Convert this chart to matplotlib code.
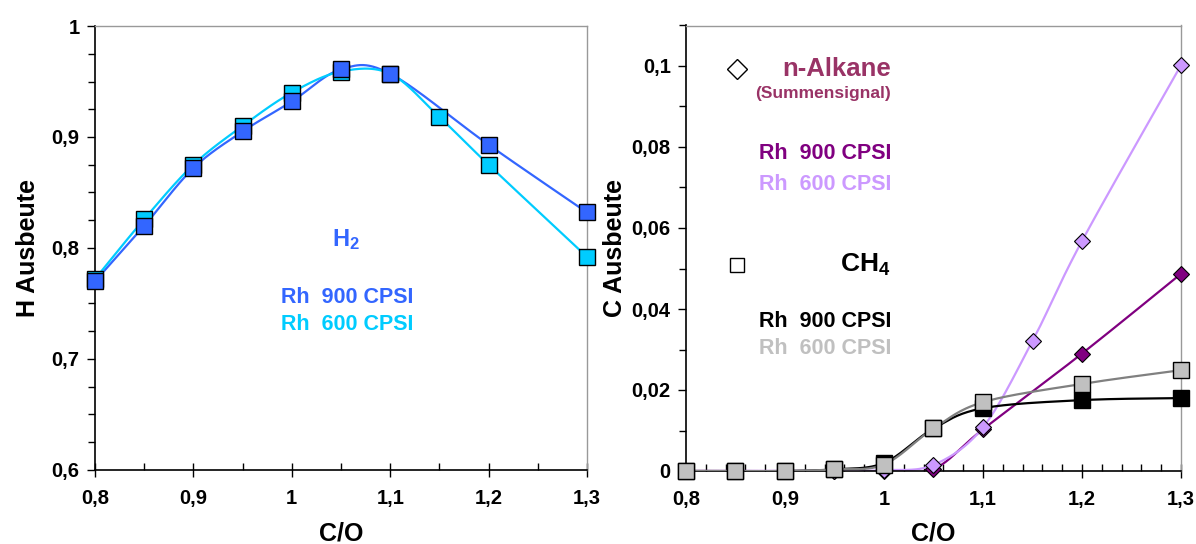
import numpy as np
import matplotlib
matplotlib.use("Agg")
import matplotlib.pyplot as plt
from matplotlib.ticker import MultipleLocator, FuncFormatter

plt.rcParams['font.family'] = ['Liberation Sans', 'DejaVu Sans']
plt.rcParams['font.weight'] = 'bold'
plt.rcParams['mathtext.fontset'] = 'custom'
plt.rcParams['mathtext.rm'] = 'Liberation Sans:bold'
plt.rcParams['mathtext.it'] = 'Liberation Sans:bold'
plt.rcParams['mathtext.bf'] = 'Liberation Sans:bold'

# ---- H2 yield (left panel) ----
h2_x_900 = [0.80, 0.85, 0.90, 0.95, 1.00, 1.05, 1.10, 1.20, 1.30]
h2_y_900 = [0.770, 0.820, 0.872, 0.905, 0.932, 0.961, 0.957, 0.893, 0.832]
h2_x_600 = [0.80, 0.85, 0.90, 0.95, 1.00, 1.05, 1.10, 1.15, 1.20, 1.30]
h2_y_600 = [0.772, 0.826, 0.875, 0.910, 0.940, 0.959, 0.957, 0.918, 0.875, 0.792]

# ---- C yield (right panel) ----
co_x = [0.80, 0.85, 0.90, 0.95, 1.00, 1.05, 1.10, 1.20, 1.30]
ch4_900 = [0.0, 0.0, 0.0, 0.0004, 0.0020, 0.0105, 0.0155, 0.0175, 0.0180]
ch4_600 = [0.0, 0.0, 0.0, 0.0004, 0.0016, 0.0105, 0.0170, 0.0215, 0.0249]
alk_x_900 = [0.80, 0.85, 0.90, 0.95, 1.00, 1.05, 1.10, 1.20, 1.30]
alk_900 = [0.0, 0.0, 0.0, 0.0, 0.0, 0.0005, 0.0103, 0.0290, 0.0487]
alk_x_600 = [0.80, 0.85, 0.90, 0.95, 1.00, 1.05, 1.10, 1.15, 1.20, 1.30]
alk_600 = [0.0, 0.0, 0.0, 0.0, 0.0002, 0.0015, 0.0108, 0.0321, 0.0568, 0.1002]

BLUE = '#3366FF'
CYAN = '#00CCFF'
PURPLE = '#800080'
LAVENDER = '#CC99FF'
MAROON = '#993366'
GRAY_LINE = '#808080'
SILVER = '#C0C0C0'


def smooth(xs, ys, n=30):
    """Bezier smoothing through the points (Catmull-Rom style control points)."""
    p = np.column_stack([xs, ys]).astype(float)
    out = []
    m = len(p)
    t = np.linspace(0, 1, n)[:, None]
    for i in range(m - 1):
        p0 = p[i - 1] if i > 0 else p[i]
        p1 = p[i]
        p2 = p[i + 1]
        p3 = p[i + 2] if i + 2 < m else p[i + 1]
        b1 = p1 + (p2 - p0) / 6.0
        b2 = p2 - (p3 - p1) / 6.0
        seg = ((1 - t) ** 3) * p1 + 3 * ((1 - t) ** 2) * t * b1 + 3 * (1 - t) * t ** 2 * b2 + t ** 3 * p2
        out.append(seg if i == 0 else seg[1:])
    c = np.vstack(out)
    return c[:, 0], c[:, 1]


def comma(v, pos):
    s = ('%.2f' % v).rstrip('0').rstrip('.')
    return s.replace('.', ',')


fig = plt.figure(figsize=(11.96, 5.44), dpi=100)
axL = fig.add_axes([95 / 1196, 1 - 470 / 544, 492 / 1196, 444 / 544])
axR = fig.add_axes([686 / 1196, 1 - 471 / 544, 495 / 1196, 445.5 / 544])

for ax in (axL, axR):
    ax.spines['left'].set_linewidth(1.2)
    ax.spines['bottom'].set_linewidth(1.2)
    for s in ('top', 'right'):
        ax.spines[s].set_color('#999999')
        ax.spines[s].set_linewidth(1.0)
    ax.xaxis.set_major_formatter(FuncFormatter(comma))
    ax.yaxis.set_major_formatter(FuncFormatter(comma))
    ax.tick_params(axis='y', which='major', direction='out', length=6, width=1, labelsize=14.5, pad=5)
    ax.tick_params(axis='y', which='minor', direction='out', length=5, width=1)
    ax.tick_params(axis='x', which='major', direction='inout', length=10, width=1, labelsize=14.5, pad=9)
    ax.tick_params(axis='x', which='minor', direction='in', length=5, width=1)

# ---- left panel ----
axL.set_xlim(0.8, 1.3)
axL.set_ylim(0.6, 1.0)
axL.xaxis.set_major_locator(MultipleLocator(0.1))
axL.xaxis.set_minor_locator(MultipleLocator(0.05))
axL.yaxis.set_major_locator(MultipleLocator(0.1))
axL.yaxis.set_minor_locator(MultipleLocator(0.025))

sx, sy = smooth(h2_x_900, h2_y_900)
axL.plot(sx, sy, color=BLUE, lw=1.6, zorder=2)
sx, sy = smooth(h2_x_600, h2_y_600)
axL.plot(sx, sy, color=CYAN, lw=1.6, zorder=3)
axL.plot(h2_x_600, h2_y_600, ls='none', marker='s', ms=11, mfc=CYAN, mec='black', mew=1.0,
         zorder=4, clip_on=False)
axL.plot(h2_x_900, h2_y_900, ls='none', marker='s', ms=11, mfc=BLUE, mec='black', mew=1.0,
         zorder=5, clip_on=False)

axL.text(0.51, 0.518, r'H$_2$', transform=axL.transAxes, ha='center', va='center',
         color=BLUE, fontsize=17, fontweight='bold')
axL.text(0.379, 0.388, 'Rh  900 CPSI', transform=axL.transAxes, ha='left', va='center',
         color=BLUE, fontsize=15.5, fontweight='bold')
axL.text(0.379, 0.327, 'Rh  600 CPSI', transform=axL.transAxes, ha='left', va='center',
         color=CYAN, fontsize=15.5, fontweight='bold')

axL.set_xlabel('C/O', fontsize=18, fontweight='bold')
axL.set_ylabel('H Ausbeute', fontsize=18, fontweight='bold')
axL.xaxis.set_label_coords(0.5, -0.115)
axL.yaxis.set_label_coords(-0.112, 0.5)

# ---- right panel ----
axR.set_xlim(0.8, 1.3)
axR.set_ylim(0.0, 0.11)
axR.xaxis.set_major_locator(MultipleLocator(0.1))
axR.xaxis.set_minor_locator(MultipleLocator(0.02))
axR.set_yticks([0, 0.02, 0.04, 0.06, 0.08, 0.1])
axR.yaxis.set_minor_locator(MultipleLocator(0.01))

sx, sy = smooth(alk_x_900, alk_900)
axR.plot(sx, sy, color=PURPLE, lw=1.6, zorder=2)
sx, sy = smooth(alk_x_600, alk_600)
axR.plot(sx, sy, color=LAVENDER, lw=1.6, zorder=2)
axR.plot(alk_x_900, alk_900, ls='none', marker='D', ms=8, mfc=PURPLE, mec='black', mew=0.8,
         zorder=3, clip_on=False)
axR.plot(alk_x_600, alk_600, ls='none', marker='D', ms=8, mfc=LAVENDER, mec='black', mew=0.8,
         zorder=3, clip_on=False)

sx, sy = smooth(co_x, ch4_900)
axR.plot(sx, sy, color='black', lw=1.6, zorder=4)
sx, sy = smooth(co_x, ch4_600)
axR.plot(sx, sy, color=GRAY_LINE, lw=1.6, zorder=4)
axR.plot(co_x, ch4_900, ls='none', marker='s', ms=11, mfc='black', mec='black', mew=1.0,
         zorder=5, clip_on=False)
axR.plot(co_x, ch4_600, ls='none', marker='s', ms=11, mfc=SILVER, mec='black', mew=1.0,
         zorder=6, clip_on=False)

# legend-style annotations
TX = 1.007
axR.plot([0.8515], [0.0993], ls='none', marker='D', ms=10.5,
         mfc='white', mec='black', mew=1.0, clip_on=False)
axR.text(TX, 0.0993, 'n-Alkane', ha='right', va='center', color=MAROON,
         fontsize=18.5, fontweight='bold')
axR.text(TX, 0.0931, '(Summensignal)', ha='right', va='center', color=MAROON,
         fontsize=12.5, fontweight='bold')
axR.text(TX, 0.0783, 'Rh  900 CPSI', ha='right', va='center', color=PURPLE,
         fontsize=15.5, fontweight='bold')
axR.text(TX, 0.0708, 'Rh  600 CPSI', ha='right', va='center', color=LAVENDER,
         fontsize=15.5, fontweight='bold')

axR.plot([0.8515], [0.0508], ls='none', marker='s', ms=10, mfc='white', mec='black', mew=1.0,
         clip_on=False)
axR.text(TX, 0.0508, r'CH$_4$', ha='right', va='center', color='black',
         fontsize=19, fontweight='bold')
axR.text(TX, 0.0368, 'Rh  900 CPSI', ha='right', va='center', color='black',
         fontsize=15.5, fontweight='bold')
axR.text(TX, 0.0303, 'Rh  600 CPSI', ha='right', va='center', color=SILVER,
         fontsize=15.5, fontweight='bold')

axR.set_xlabel('C/O', fontsize=18, fontweight='bold')
axR.set_ylabel('C Ausbeute', fontsize=18, fontweight='bold')
axR.xaxis.set_label_coords(0.5, -0.114)
axR.yaxis.set_label_coords(-0.119, 0.5)

fig.savefig('out.png', dpi=100)
